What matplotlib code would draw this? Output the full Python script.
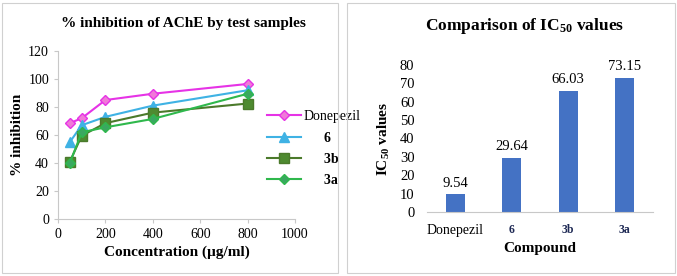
import matplotlib.pyplot as plt
from matplotlib.patches import Rectangle

plt.rcParams['font.family'] = ['Liberation Serif', 'DejaVu Serif']
plt.rcParams['mathtext.fontset'] = 'custom'
plt.rcParams['mathtext.rm'] = 'Liberation Serif:bold'
plt.rcParams['mathtext.default'] = 'rm'

conc = [50, 100, 200, 400, 800]
donepezil = [68.5, 72, 85, 89.5, 96.5]
c6 = [55, 67, 73, 81, 92]
c3b = [41, 59.5, 68.5, 76, 82.5]
c3a = [40, 62, 65.5, 71.5, 89.5]

compounds = ["Donepezil", "6", "3b", "3a"]
ic50 = [9.54, 29.64, 66.03, 73.15]

fig = plt.figure(figsize=(6.77, 2.76), dpi=100)

# panel borders
for (x0, w) in [(2 / 677, 336 / 677), (347 / 677, 328 / 677)]:
    fig.patches.append(Rectangle((x0, 3 / 276), w, 270 / 276, transform=fig.transFigure,
                                 fill=False, edgecolor="#d0d0d0", linewidth=0.8))

# left: line chart
ax1 = fig.add_axes([0.0857, 0.2065, 0.35, 0.6085])
ax1.plot(conc, donepezil, color="#e633e6", marker="D", markersize=5, mfc="#f07ad8", mec="#e633e6", lw=1.5, label="Donepezil")
ax1.plot(conc, c6, color="#3fb2e4", marker="^", markersize=6.5, lw=1.5, label="      6")
ax1.plot(conc, c3b, color="#4b7a2b", marker="s", markersize=6.5, mfc="#4e8a30", lw=1.5, label="      3b")
ax1.plot(conc, c3a, color="#2fb84c", marker="D", markersize=5, mfc="#3aa860", lw=1.5, label="      3a")
ax1.set_xlim(0, 1000)
ax1.set_ylim(0, 120)
ax1.set_xticks(range(0, 1001, 200))
ax1.set_yticks(range(0, 121, 20))
for s in ["top", "right"]:
    ax1.spines[s].set_visible(False)
for s in ["left", "bottom"]:
    ax1.spines[s].set_color("#c8c8c8")
ax1.tick_params(colors="#c8c8c8", labelcolor="black", labelsize=10, length=3)
ax1.set_xlabel("Concentration (µg/ml)", fontsize=11, fontweight="bold", labelpad=3)
ax1.set_ylabel("% inhibition", fontsize=11, fontweight="bold", labelpad=3)
ax1.set_title("% inhibition of AChE by test samples", fontsize=11, fontweight="bold", pad=17, x=0.53)
leg = ax1.legend(loc="upper left", bbox_to_anchor=(0.86, 0.68), frameon=False, fontsize=10,
                 handlelength=2.4, labelspacing=0.6, handletextpad=0.2, borderaxespad=0)
for t in leg.get_texts()[1:]:
    t.set_fontweight("bold")

# right: bar chart
ax2 = fig.add_axes([0.6307, 0.232, 0.3338, 0.5326])
bars = ax2.bar(compounds, ic50, width=0.33, color="#4472c4")
for b, v in zip(bars, ic50):
    ax2.text(b.get_x() + b.get_width() / 2, v + 2.5, f"{v:.2f}", ha="center", va="bottom", fontsize=10.5)
ax2.set_ylim(0, 80)
ax2.set_yticks(range(0, 81, 10))
ax2.set_xlim(-0.5, 3.5)
for s in ["top", "right", "left"]:
    ax2.spines[s].set_visible(False)
ax2.spines["bottom"].set_color("#c8c8c8")
ax2.tick_params(axis="y", length=0, labelsize=10.5, pad=9)
ax2.tick_params(axis="x", length=0, labelsize=10, pad=9)
for lbl in ax2.get_xticklabels()[1:]:
    lbl.set_fontweight("bold")
    lbl.set_color("#1f2a55")
    lbl.set_fontsize(8.5)
ax2.set_xlabel("Compound", fontsize=11, fontweight="bold", labelpad=3)
ax2.set_ylabel("IC$_{50}$ values", fontsize=11, fontweight="bold", labelpad=6)
ax2.set_title("Comparison of IC$_{50}$ values", fontsize=12.5, fontweight="bold", pad=25, x=0.43)

fig.savefig("out.png", dpi=100)
